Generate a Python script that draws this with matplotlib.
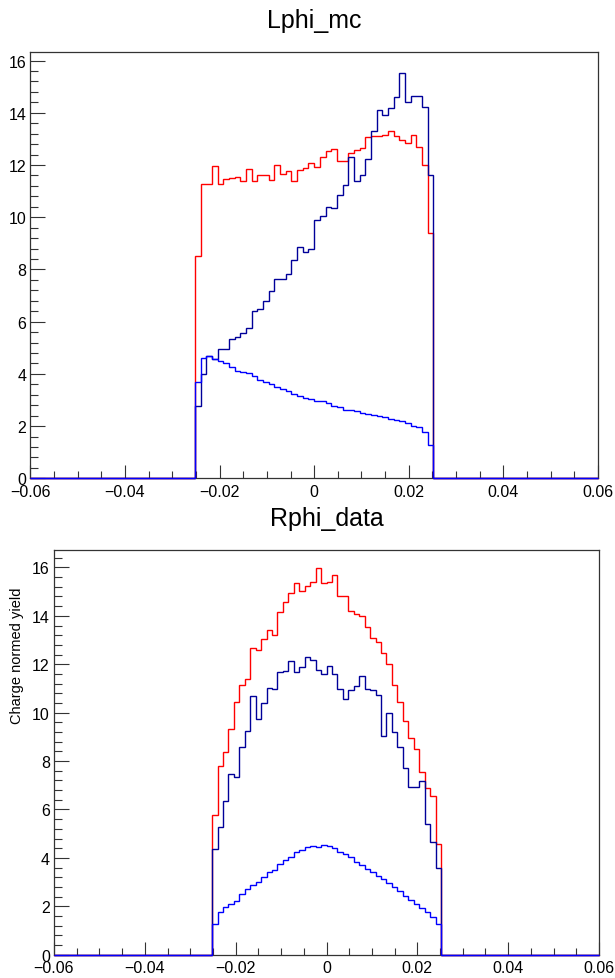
import numpy as np
import matplotlib
matplotlib.use("Agg")
import matplotlib.pyplot as plt
from matplotlib.ticker import MultipleLocator, FuncFormatter

plt.rcParams['font.family'] = ['Liberation Sans', 'DejaVu Sans']

# histogram binning: 100 bins over [-0.06, 0.06], filled bins 29..70
n_bins = 100
x_range = (-0.06, 0.06)
first_bin = 29

# Lphi_mc (top panel)
mc_red = [8.5, 11.28, 11.28, 11.95, 11.28, 11.48, 11.5, 11.55, 11.38, 11.84, 11.4,
          11.6, 11.6, 11.43, 12.0, 11.67, 11.77, 11.38, 11.8, 11.9, 12.06,
          11.92, 12.3, 12.52, 12.63, 12.17, 12.17, 12.46, 12.59, 12.67, 13.06,
          13.12, 13.13, 13.14, 13.3, 13.13, 12.96, 12.85, 13.14, 12.7, 12.0, 9.4]
mc_navy = [2.78, 4.0, 4.7, 4.57, 4.95, 4.95, 5.33, 5.40, 5.56, 5.76, 6.40,
           6.49, 6.79, 7.19, 7.64, 7.64, 7.83, 8.35, 8.85, 8.66, 8.79,
           9.91, 10.06, 10.41, 10.36, 10.87, 11.22, 12.3, 11.38, 11.6, 12.24,
           13.32, 14.09, 13.92, 14.19, 14.6, 15.51, 14.43, 14.66, 14.66, 14.24, 11.63]
mc_blue = [3.68, 4.6, 4.7, 4.57, 4.5, 4.41, 4.25, 4.12, 4.09, 4.03, 3.9,
           3.77, 3.68, 3.62, 3.49, 3.43, 3.34, 3.24, 3.17, 3.08, 3.02,
           2.97, 2.97, 2.87, 2.78, 2.75, 2.63, 2.63, 2.59, 2.49, 2.46,
           2.44, 2.40, 2.34, 2.27, 2.24, 2.21, 2.11, 2.02, 1.95, 1.76, 1.29]

# Rphi_data (bottom panel)
data_red = [5.77, 7.81, 8.36, 9.33, 10.43, 11.14, 11.39, 12.66, 12.6, 13.05, 13.42,
            13.21, 14.15, 14.59, 14.93, 15.35, 15.04, 15.25, 15.39, 15.97, 15.36,
            15.39, 15.7, 14.8, 14.8, 14.19, 14.08, 13.98, 13.53, 13.09, 12.91,
            12.45, 12.0, 11.16, 10.43, 9.64, 8.96, 8.5, 7.56, 6.89, 6.54, 4.57]
data_navy = [4.37, 5.27, 6.37, 7.47, 7.33, 8.57, 9.26, 10.70, 9.74, 10.38, 11.0,
             10.98, 11.67, 11.74, 12.15, 11.67, 11.87, 12.29, 12.18, 11.76, 11.6,
             11.92, 11.6, 10.98, 10.57, 10.92, 11.12, 11.5, 10.98, 10.92, 10.71,
             9.05, 9.98, 9.19, 8.57, 7.70, 6.94, 6.94, 7.19, 5.4, 4.64, 3.57]
data_blue = [1.27, 1.75, 1.98, 2.09, 2.23, 2.51, 2.72, 2.88, 3.02, 3.2, 3.4,
             3.51, 3.75, 3.93, 4.05, 4.23, 4.34, 4.44, 4.51, 4.44, 4.54,
             4.51, 4.4, 4.23, 4.16, 4.02, 3.84, 3.71, 3.54, 3.4, 3.24,
             3.13, 2.96, 2.79, 2.65, 2.44, 2.26, 2.09, 1.91, 1.75, 1.54, 1.27]

colors = ['#ff0000', '#000099', '#0000ff']
edges = np.linspace(x_range[0], x_range[1], n_bins + 1)


def full_hist(vals):
    h = np.zeros(n_bins)
    h[first_bin:first_bin + len(vals)] = vals
    return h


def xfmt(v, pos):
    if abs(v) < 1e-9:
        return '0'
    return f'{v:.2f}'.replace('-', '\u2212')


def draw_panel(ax, series, title, ymax, title_pad):
    for vals, c in zip(series, colors):
        ax.stairs(full_hist(vals), edges, color=c, linewidth=1.0,
                  clip_on=False, zorder=3)
    ax.set_xlim(*x_range)
    ax.set_ylim(0, ymax)
    ax.xaxis.set_major_locator(MultipleLocator(0.02))
    ax.xaxis.set_minor_locator(MultipleLocator(0.005))
    ax.yaxis.set_major_locator(MultipleLocator(2))
    ax.yaxis.set_minor_locator(MultipleLocator(0.4))
    ax.xaxis.set_major_formatter(FuncFormatter(xfmt))
    ax.tick_params(axis='x', which='major', direction='in', length=9.5, width=0.8,
                   labelsize=11.5, pad=4, color='#333333')
    ax.tick_params(axis='x', which='minor', direction='in', length=4.7, width=0.8,
                   color='#333333')
    ax.tick_params(axis='y', which='major', direction='in', length=11, width=0.8,
                   labelsize=11.5, pad=3, color='#333333')
    ax.tick_params(axis='y', which='minor', direction='in', length=5.5, width=0.8,
                   color='#333333')
    for s in ax.spines.values():
        s.set_linewidth(0.9)
        s.set_color('#333333')
    ax.set_title(title, fontsize=18, pad=title_pad)


fig = plt.figure(figsize=(6.15, 9.79), dpi=100)

ax1 = fig.add_axes([0.0493, 0.5104, 0.9231, 0.4355])
draw_panel(ax1, [mc_red, mc_navy, mc_blue], 'Lphi_mc', 16.33, 18)

ax2 = fig.add_axes([0.0878, 0.0238, 0.8862, 0.4134])
draw_panel(ax2, [data_red, data_navy, data_blue], 'Rphi_data', 16.72, 18)

fig.text(0.028, 1 - 588 / 979, 'Charge normed yield', rotation=90,
         ha='center', va='top', fontsize=10.5)

fig.savefig('out.png', dpi=100)
